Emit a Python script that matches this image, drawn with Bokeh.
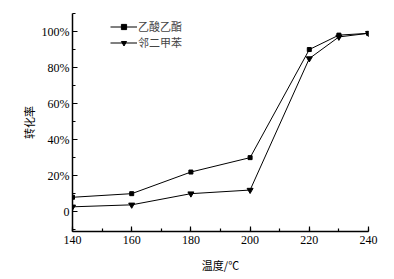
from bokeh.plotting import figure
from bokeh.models import SingleIntervalTicker, Legend, LegendItem, Range1d
from bokeh.embed import file_html
from bokeh.resources import INLINE

temps = [140, 160, 180, 200, 220, 230, 240]
ethyl_acetate = [8, 10, 22, 30, 90, 98, 99]
o_xylene = [2.7, 3.8, 10, 12, 85, 97, 99]
series_names = ["乙酸乙酯", "邻二甲苯"]
y_ticks = [0, 20, 40, 60, 80, 100]
y_tick_labels = ["0", "20%", "40%", "60%", "80%", "100%"]

SERIF = "Liberation Serif"
CJK = "Noto Sans CJK SC"

p = figure(frame_width=296, frame_height=218, output_backend="svg", toolbar_location=None,
           x_range=Range1d(140, 240), y_range=Range1d(-11, 110),
           min_border_left=72, min_border_right=18, min_border_top=13, min_border_bottom=30)
p.outline_line_color = None
p.xgrid.visible = False
p.ygrid.visible = False
p.background_fill_color = "white"
p.border_fill_color = "white"

r1 = p.line(temps, ethyl_acetate, line_color="black", line_width=1)
s1 = p.scatter(temps, ethyl_acetate, marker="square", size=4, color="black")
r2 = p.line(temps, o_xylene, line_color="black", line_width=1)
s2 = p.scatter(temps, o_xylene, marker="inverted_triangle", size=6, color="black")

for ax in (p.xaxis[0], p.yaxis[0]):
    ax.axis_line_width = 1.5
    ax.major_tick_in = 5
    ax.major_tick_out = 0
    ax.minor_tick_in = 3
    ax.minor_tick_out = 0
    ax.major_tick_line_width = 1.2
    ax.minor_tick_line_width = 1.2
    ax.major_label_text_font = SERIF
    ax.major_label_text_font_size = "12px"
    ax.major_label_text_color = "black"
    ax.axis_label_text_font = CJK
    ax.axis_label_text_font_size = "11px"
    ax.axis_label_text_font_style = "normal"
    ax.axis_label_text_color = "black"

p.xaxis.ticker = SingleIntervalTicker(interval=20, num_minor_ticks=2)
p.yaxis.ticker = SingleIntervalTicker(interval=20, num_minor_ticks=2)
p.yaxis.major_label_overrides = {t: l for t, l in zip(y_ticks, y_tick_labels)}
p.xaxis.major_label_standoff = 4
p.yaxis.major_label_standoff = 3
p.xaxis.axis_label = "温度/℃"
p.yaxis.axis_label = "转化率"
p.xaxis.axis_label_standoff = 10
p.yaxis.axis_label_standoff = 2

legend = Legend(items=[LegendItem(label=series_names[0], renderers=[r1, s1]),
                       LegendItem(label=series_names[1], renderers=[r2, s2])],
                location=(38, 181), border_line_color=None, background_fill_alpha=0,
                padding=0, margin=0, spacing=0, label_height=13, glyph_height=13,
                glyph_width=27, label_standoff=1, label_text_font=CJK,
                label_text_font_size="11px", label_text_line_height=1.0)
p.add_layout(legend)

open("out.html", "w").write(file_html(p, INLINE))
